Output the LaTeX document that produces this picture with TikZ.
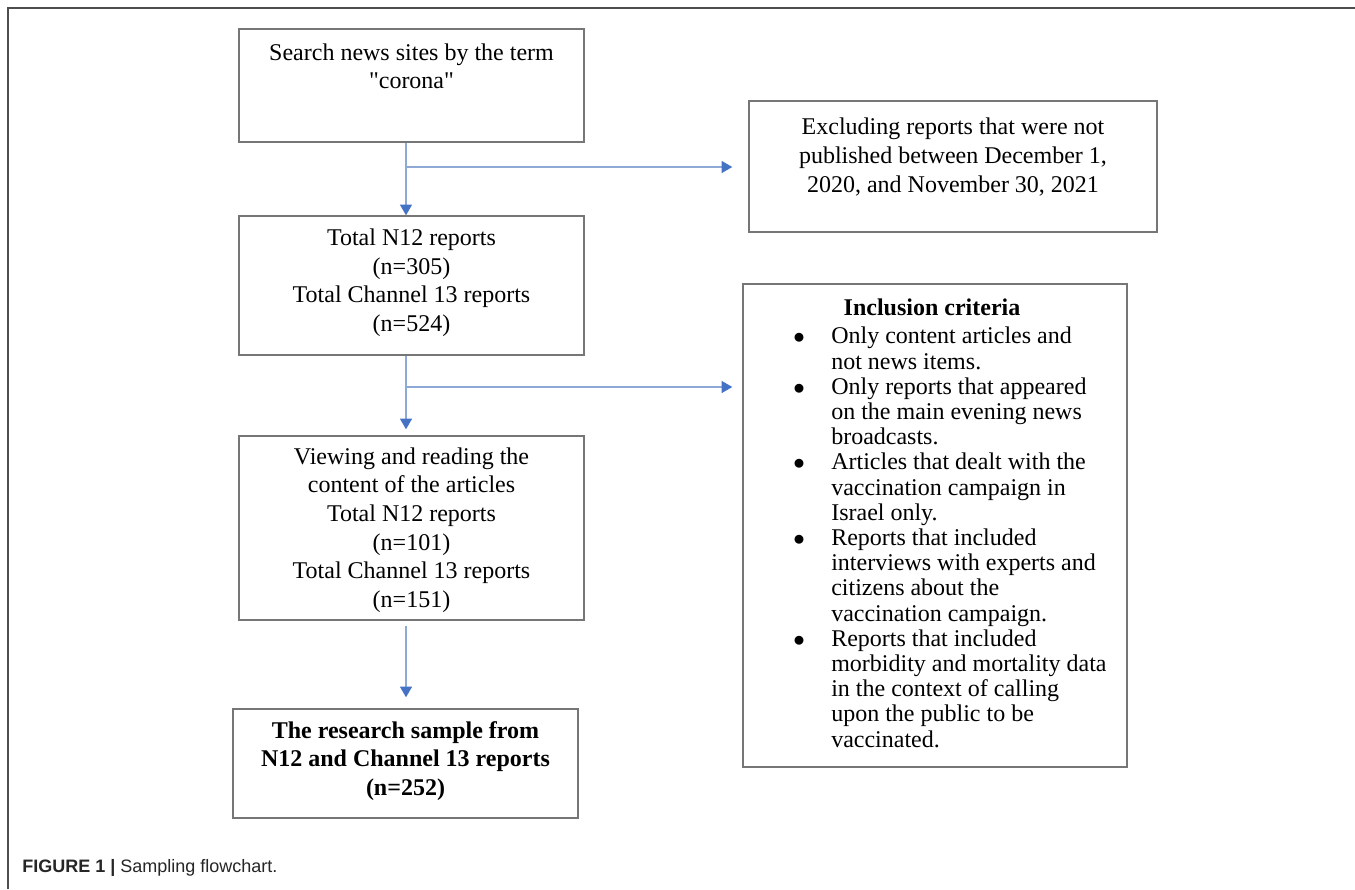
\documentclass[tikz,border=0pt]{standalone}
\usepackage{fontspec}
\setmainfont{Liberation Serif}
\newfontfamily\qfont{Liberation Serif}
\newfontfamily\capfont{Liberation Sans}
\usetikzlibrary{arrows.meta,fit}
\definecolor{boxgray}{HTML}{767676}
\definecolor{linkblue}{HTML}{8FA9D6}
\definecolor{headblue}{HTML}{4472C4}
\definecolor{framegray}{HTML}{4D4D4D}
\newcommand{\boxfont}{\fontsize{18pt}{21.4pt}\selectfont}
\newcommand{\listfont}{\fontsize{18pt}{18.9pt}\selectfont}
\newcommand{\bul}{$\bullet$}
\newcommand{\sq}{{\qfont\symbol{34}}}
\begin{document}
\begin{tikzpicture}[x=0.75pt,y=-0.75pt,
  box/.style={draw=boxgray, line width=1.1pt, inner sep=0pt},
  txt/.style={font=\boxfont, align=center, inner sep=0pt, text=black},
  link/.style={draw=linkblue, line width=0.9pt},
  arr/.style={link, -{Triangle[length=8pt,width=9pt,color=headblue]}}
]
\useasboundingbox (0,0) rectangle (1355,889);
\fill[white] (0,0) rectangle (1355,889);
% frame
\coordinate (fA) at (8,889);
\coordinate (fB) at (8,8);
\coordinate (fC) at (1355,8);
\draw[framegray, line width=1.2pt] (fA) -- (fB) -- (fC);

% boxes
\node[box, fit={(239,29) (584,142)}] (b1) {};
\node[box, fit={(749,101) (1157,232)}] (b2) {};
\node[box, fit={(239,216) (584,355)}] (b3) {};
\node[box, fit={(743,284) (1127,767)}] (inc) {};
\node[box, fit={(239,436) (584,620)}] (b4) {};
\node[box, fit={(233,709) (578,818)}] (b5) {};

% texts
\node[txt] (t1) at (411.5,66.5) {Search news sites by the term\\\sq corona\sq};
\node[txt] (t2) at (953,157) {Excluding reports that were not\\published between December 1,\\2020, and November 30, 2021};
\node[txt] (t3) at (411.5,282.5) {Total N12 reports\\(n=305)\\Total Channel 13 reports\\(n=524)};
\node[txt] (t4) at (411.5,530) {Viewing and reading the\\content of the articles\\Total N12 reports\\(n=101)\\Total Channel 13 reports\\(n=151)};
\node[txt, font=\boxfont\bfseries] (t5) at (405.5,761) {The research sample from\\N12 and Channel 13 reports\\(n=252)};
\node[txt, font=\boxfont\bfseries] (th) at (932,307) {Inclusion criteria};
\node[anchor=north west, inner sep=0pt, font=\listfont] (tl) at (793,326) {%
\begin{tabular}{@{}p{28.5pt}@{}l@{}}
\bul & Only content articles and\\
 & not news items.\\
\bul & Only reports that appeared\\
 & on the main evening news\\
 & broadcasts.\\
\bul & Articles that dealt with the\\
 & vaccination campaign in\\
 & Israel only.\\
\bul & Reports that included\\
 & interviews with experts and\\
 & citizens about the\\
 & vaccination campaign.\\
\bul & Reports that included\\
 & morbidity and mortality data\\
 & in the context of calling\\
 & upon the public to be\\
 & vaccinated.
\end{tabular}};

% connectors
\coordinate (ax) at (406,0);
\coordinate (br1) at (406,167);
\coordinate (br2) at (406,387);
\draw[arr] (b1.south -| ax) -- (b3.north -| ax);
\draw[arr, shorten >=12pt] (br1) -- (br1 -| b2.west);
\draw[arr, shorten >=4.5pt] (b3.south -| ax) -- (b4.north -| ax);
\draw[arr, shorten >=7.5pt] (br2) -- (br2 -| inc.west);
\draw[arr, shorten <=3.75pt, shorten >=8.25pt] (b4.south -| ax) -- (b5.north -| ax);

% caption
\node[anchor=west, inner sep=0pt, text=black!85, font=\capfont\fontsize{13.5pt}{16pt}\selectfont] (cap) at (22,868) {\textbf{FIGURE 1 |} Sampling flowchart.};
\end{tikzpicture}
\end{document}
